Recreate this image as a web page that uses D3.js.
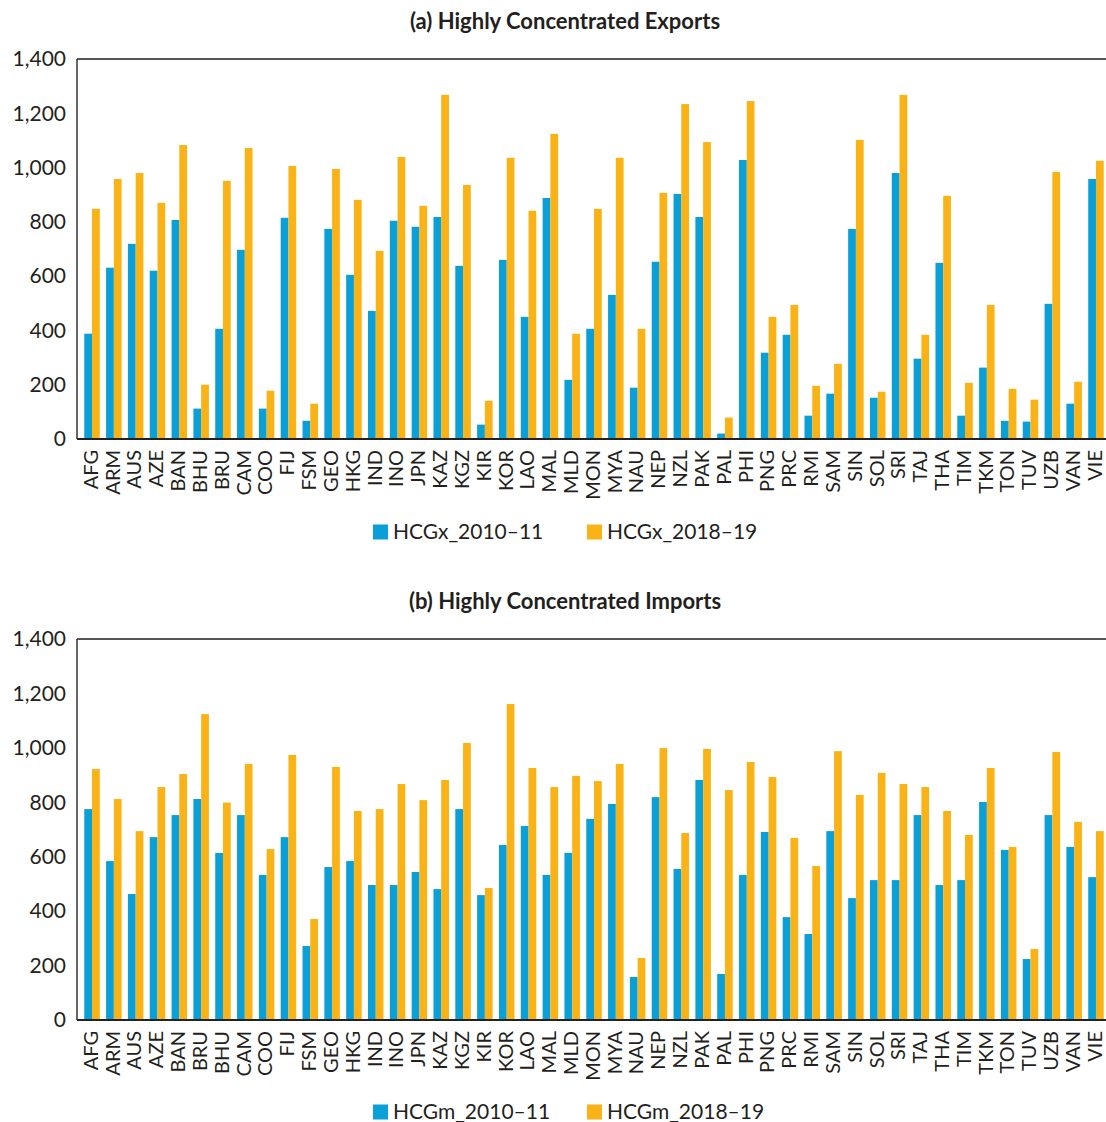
<!DOCTYPE html>
<html>
<head>
<meta charset="utf-8">
<script src="https://cdn.jsdelivr.net/npm/d3@7"></script>
<style>
  html, body { margin: 0; padding: 0; background: #fff; }
  svg { display: block; font-family: Lato, "Open Sans", sans-serif; }
</style>
</head>
<body>
<svg id="chart" width="1106" height="1122"></svg>
<script>
const categoriesA = ["AFG","ARM","AUS","AZE","BAN","BHU","BRU","CAM","COO","FIJ","FSM","GEO","HKG","IND","INO","JPN","KAZ","KGZ","KIR","KOR","LAO","MAL","MLD","MON","MYA","NAU","NEP","NZL","PAK","PAL","PHI","PNG","PRC","RMI","SAM","SIN","SOL","SRI","TAJ","THA","TIM","TKM","TON","TUV","UZB","VAN","VIE"];
const hcgx2010 = [388,631,719,620,807,112,406,697,112,815,67,774,605,472,804,782,818,638,53,660,450,888,218,406,531,189,653,903,818,20,1028,318,384,86,167,774,152,980,296,649,86,263,67,64,498,130,958];
const hcgx2018 = [848,958,980,870,1083,200,951,1072,178,1006,130,995,881,693,1039,859,1268,936,141,1036,841,1124,388,848,1036,406,907,1234,1094,79,1245,450,494,196,277,1102,174,1268,384,896,207,494,185,145,984,211,1025];

const categoriesB = ["AFG","ARM","AUS","AZE","BAN","BRU","BHU","CAM","COO","FIJ","FSM","GEO","HKG","IND","INO","JPN","KAZ","KGZ","KIR","KOR","LAO","MAL","MLD","MON","MYA","NAU","NEP","NZL","PAK","PAL","PHI","PNG","PRC","RMI","SAM","SIN","SOL","SRI","TAJ","THA","TIM","TKM","TON","TUV","UZB","VAN","VIE"];
const hcgm2010 = [775,584,463,672,753,812,614,753,533,672,272,562,584,496,496,544,481,775,459,643,713,533,614,739,794,158,819,555,882,169,533,691,378,316,694,448,514,514,753,496,514,801,625,224,753,636,525];
const hcgm2018 = [922,812,694,856,904,1124,799,941,628,974,371,930,768,775,867,808,882,1018,485,1161,926,856,897,878,941,228,999,687,996,845,948,893,669,566,988,827,908,867,856,768,680,926,636,261,985,728,694];

const yTicks = [0,200,400,600,800,1000,1200,1400];
const BLUE = "#0aa0d7", ORANGE = "#f9b317", TEXT = "#231f20";

const svg = d3.select("#chart");
const fmt = d3.format(",");

function panel(opts) {
  const { title, titleY, top, bottom, cats, s1, s2, names, legendY } = opts;
  const left = 77, right = 1106;
  const g = svg.append("g");
  const x = d3.scaleBand().domain(cats).range([81, 1107]).paddingInner(0.29).paddingOuter(0.15);
  const y = d3.scaleLinear().domain([0, 1400]).range([bottom, top]);

  g.append("text").attr("x", 565).attr("y", titleY).attr("text-anchor", "middle")
    .attr("font-weight", "bold").attr("font-size", 22).attr("fill", TEXT).text(title);

  // y axis labels
  const ya = g.append("g").attr("transform", `translate(${left},0)`)
    .call(d3.axisLeft(y).tickValues(yTicks).tickFormat(fmt).tickSize(0).tickPadding(11));
  ya.select(".domain").remove();
  ya.selectAll("text").attr("font-size", 21).attr("fill", TEXT).attr("font-family", "Lato, sans-serif");

  // bars
  const xi = d3.scaleBand().domain([0, 1]).range([0, x.bandwidth()]);
  const rows = cats.map((c, i) => ({ c, v: [s1[i], s2[i]] }));
  const grp = g.selectAll("g.cat").data(rows).join("g").attr("transform", d => `translate(${x(d.c)},0)`);
  grp.selectAll("rect").data(d => d.v.map((v, k) => ({ v, k }))).join("rect")
    .attr("x", d => xi(d.k)).attr("width", xi.bandwidth())
    .attr("y", d => y(d.v)).attr("height", d => y(0) - y(d.v))
    .attr("fill", d => d.k === 0 ? BLUE : ORANGE);

  // frame
  g.append("line").attr("x1", left).attr("x2", right).attr("y1", top).attr("y2", top)
    .attr("stroke", "#555").attr("stroke-width", 2);
  g.append("line").attr("x1", left).attr("x2", left).attr("y1", top).attr("y2", bottom)
    .attr("stroke", "#333").attr("stroke-width", 1.5);
  g.append("line").attr("x1", left).attr("x2", right).attr("y1", bottom).attr("y2", bottom)
    .attr("stroke", "#222").attr("stroke-width", 1.8);

  // x axis labels
  const xa = g.append("g").attr("transform", `translate(0,${bottom})`)
    .call(d3.axisBottom(x).tickSize(0).tickPadding(0));
  xa.select(".domain").remove();
  xa.selectAll("text").attr("font-size", 20).attr("fill", TEXT).attr("font-family", "Lato, sans-serif")
    .attr("text-anchor", "end").attr("dy", "0.34em")
    .attr("transform", "translate(-1,11) rotate(-90)").attr("x", 0).attr("y", 0);

  // legend
  const lg = g.append("g");
  const items = [{ name: names[0], color: BLUE, x: 373 }, { name: names[1], color: ORANGE, x: 587 }];
  items.forEach(it => {
    lg.append("rect").attr("x", it.x).attr("y", legendY - 7.5).attr("width", 15).attr("height", 15).attr("fill", it.color);
    lg.append("text").attr("x", it.x + 20).attr("y", legendY).attr("dy", "0.35em")
      .attr("font-size", 21).attr("fill", TEXT).text(it.name);
  });
}

panel({ title: "(a) Highly Concentrated Exports", titleY: 29, top: 59, bottom: 439,
  cats: categoriesA, s1: hcgx2010, s2: hcgx2018, names: ["HCGx_2010–11", "HCGx_2018–19"], legendY: 532 });
panel({ title: "(b) Highly Concentrated Imports", titleY: 609, top: 639, bottom: 1020,
  cats: categoriesB, s1: hcgm2010, s2: hcgm2018, names: ["HCGm_2010–11", "HCGm_2018–19"], legendY: 1112 });
</script>
</body>
</html>
